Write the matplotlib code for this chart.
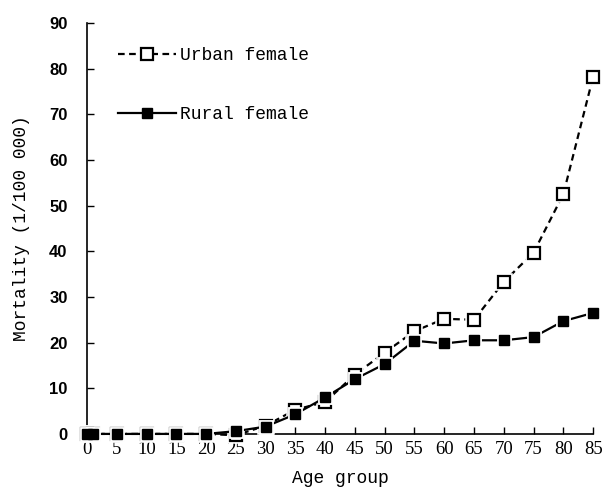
import matplotlib
matplotlib.use("Agg")
import matplotlib.pyplot as plt

# age groups (years) and mortality per 100 000
ages = [0, 1, 5, 10, 15, 20, 25, 30, 35, 40, 45, 50, 55, 60, 65, 70, 75, 80, 85]
urban_female = [0, 0, 0, 0, 0, 0, -0.3, 1.8, 5.3, 7.0, 13.0, 17.8, 22.5, 25.2, 25.0, 33.3, 39.7, 52.5, 78.2]
rural_female = [0, 0, 0, 0, 0, 0, 0.6, 1.6, 4.3, 8.0, 12.0, 15.3, 20.4, 19.8, 20.5, 20.5, 21.2, 24.7, 26.5]
xticks = [0, 5, 10, 15, 20, 25, 30, 35, 40, 45, 50, 55, 60, 65, 70, 75, 80, 85]
yticks = [0, 10, 20, 30, 40, 50, 60, 70, 80, 90]

mono = "Liberation Mono"

fig = plt.figure(figsize=(6.04, 4.87), dpi=100)
ax = fig.add_axes([0.144, 0.109, 0.838, 0.844])

# lines with a white gap around each marker
ax.plot(ages, urban_female, color="black", linestyle=(0, (3, 2)), linewidth=1.6,
        marker="s", markersize=8, markerfacecolor="white", markeredgecolor="white",
        markeredgewidth=4, clip_on=False, zorder=3)
ax.plot(ages, urban_female, linestyle="none",
        marker="s", markersize=8, markerfacecolor="white", markeredgecolor="black",
        markeredgewidth=1.6, clip_on=False, zorder=3.1)
ax.plot(ages, rural_female, color="black", linestyle="-", linewidth=1.6,
        marker="s", markersize=7.5, markerfacecolor="black", markeredgecolor="white",
        markeredgewidth=3.5, clip_on=False, zorder=4)
ax.plot(ages, rural_female, linestyle="none",
        marker="s", markersize=7.5, markerfacecolor="black", markeredgecolor="black",
        clip_on=False, zorder=4.1)

# legend handles
ax.plot([], [], color="black", linestyle=(0, (3, 2)), linewidth=1.6,
        marker="s", markersize=8, markerfacecolor="white", markeredgecolor="black",
        markeredgewidth=1.6, label="Urban female")
ax.plot([], [], color="black", linestyle="-", linewidth=1.6,
        marker="s", markersize=7.5, markerfacecolor="black", markeredgecolor="black",
        label="Rural female")

ax.set_xlim(0, 85)
ax.set_ylim(0, 90)
ax.set_xticks(xticks)
ax.set_yticks(yticks)
ax.set_xticklabels([str(t) for t in xticks], fontfamily="Liberation Serif", fontsize=13.5)
ax.set_yticklabels([str(t) for t in yticks], fontfamily="Liberation Sans", fontweight="bold", fontsize=12)
ax.tick_params(direction="in", length=5, width=1)
ax.tick_params(axis="x", pad=5)
ax.tick_params(axis="y", pad=14)

for s in ["top", "right"]:
    ax.spines[s].set_visible(False)
for s in ["left", "bottom"]:
    ax.spines[s].set_linewidth(1.2)

ax.set_xlabel("Age group", fontfamily=mono, fontsize=13, labelpad=9)
ax.set_ylabel("Mortality (1/100 000)", fontfamily=mono, fontsize=13, labelpad=14)

ax.legend(loc="upper left", bbox_to_anchor=(0.03, 0.98), frameon=False,
          handlelength=3.2, handletextpad=0.2, labelspacing=2.3,
          prop={"family": mono, "size": 13})

fig.savefig("out.png", dpi=100)
